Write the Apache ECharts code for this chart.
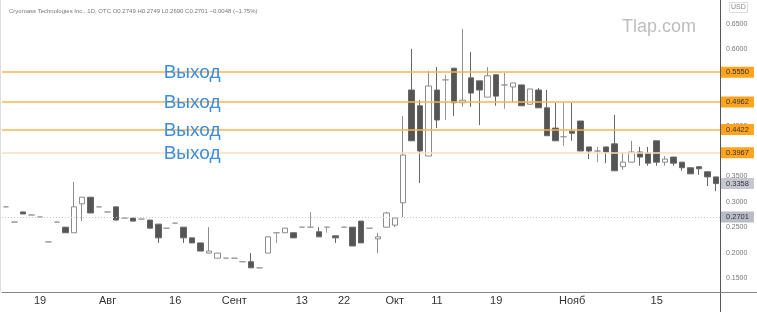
<!DOCTYPE html>
<html>
<head>
<meta charset="utf-8">
<script src="https://cdn.jsdelivr.net/npm/echarts@6/dist/echarts.min.js"></script>
<style>
html, body { margin: 0; padding: 0; background: #fff; }
#chart { width: 757px; height: 312px; }
</style>
</head>
<body>
<div id="chart"></div>
<script>
// daily candles
var opens  = [0.290,0.260,0.280,0.274,0.270,0.221,0.260,0.250,0.239,0.296,0.309,0.290,0.280,0.290,0.268,0.268,0.266,0.264,0.256,0.248,0.258,0.250,0.229,0.219,0.199,0.189,0.189,0.189,0.182,0.182,0.170,0.199,0.239,0.239,0.239,0.250,0.250,0.241,0.250,0.233,0.250,0.250,0.262,0.248,0.227,0.250,0.254,0.298,0.520,0.489,0.390,0.520,0.540,0.563,0.495,0.544,0.538,0.506,0.550,0.530,0.526,0.530,0.492,0.520,0.485,0.445,0.428,0.439,0.459,0.408,0.400,0.408,0.414,0.369,0.378,0.398,0.396,0.420,0.378,0.388,0.378,0.367,0.369,0.359,0.349];
var closes = [0.290,0.260,0.276,0.274,0.270,0.221,0.260,0.239,0.290,0.309,0.278,0.290,0.280,0.264,0.268,0.262,0.266,0.248,0.229,0.248,0.258,0.229,0.219,0.203,0.203,0.199,0.189,0.189,0.182,0.170,0.170,0.231,0.239,0.248,0.229,0.250,0.250,0.231,0.250,0.229,0.250,0.213,0.219,0.248,0.231,0.278,0.268,0.392,0.420,0.400,0.528,0.461,0.540,0.495,0.500,0.514,0.520,0.548,0.508,0.530,0.534,0.489,0.522,0.485,0.430,0.420,0.428,0.435,0.400,0.400,0.400,0.398,0.361,0.378,0.398,0.388,0.376,0.378,0.384,0.376,0.367,0.355,0.365,0.349,0.3358];
var lows   = [0.290,0.260,0.276,0.274,0.270,0.221,0.260,0.239,0.239,0.262,0.278,0.290,0.280,0.264,0.268,0.262,0.266,0.248,0.219,0.248,0.258,0.219,0.219,0.203,0.199,0.189,0.189,0.189,0.182,0.170,0.170,0.199,0.219,0.239,0.229,0.250,0.250,0.231,0.239,0.219,0.250,0.213,0.219,0.248,0.199,0.250,0.250,0.270,0.420,0.337,0.390,0.445,0.461,0.469,0.487,0.487,0.451,0.506,0.489,0.483,0.495,0.489,0.492,0.485,0.430,0.420,0.410,0.420,0.400,0.384,0.378,0.376,0.361,0.363,0.378,0.371,0.371,0.371,0.371,0.371,0.361,0.355,0.353,0.331,0.321];
var highs  = [0.290,0.260,0.280,0.274,0.270,0.221,0.260,0.250,0.339,0.309,0.309,0.290,0.280,0.290,0.268,0.268,0.266,0.264,0.256,0.248,0.258,0.250,0.229,0.219,0.250,0.199,0.189,0.189,0.182,0.199,0.170,0.231,0.239,0.248,0.239,0.250,0.280,0.250,0.250,0.233,0.250,0.250,0.262,0.248,0.239,0.280,0.268,0.469,0.601,0.500,0.558,0.565,0.550,0.563,0.640,0.595,0.538,0.565,0.550,0.554,0.534,0.530,0.522,0.524,0.520,0.495,0.495,0.495,0.459,0.408,0.408,0.408,0.471,0.398,0.420,0.408,0.408,0.420,0.390,0.388,0.378,0.367,0.369,0.359,0.349];

var tickIdx  = [4, 12, 20, 27, 35, 40, 46, 51, 58, 67, 77];
var tickText = ['19', 'Авг', '16', 'Сент', '13', '22', 'Окт', '11', '19', 'Нояб', '15'];
var yTicks = [0.15, 0.20, 0.25, 0.30, 0.35, 0.40, 0.45, 0.50, 0.55, 0.60, 0.65];

var exitLevels = [0.5550, 0.4962, 0.4422, 0.3967];
var exitLabel = 'Выход';
var lastPrice = 0.3358;
var refPrice = 0.2701;

var days = opens.map(function (v, i) { return String(i); });
var ohlc = opens.map(function (o, i) { return [o, closes[i], lows[i], highs[i]]; });

var tagLabel = function (v, bg) {
    return {
        show: true, position: 'end', distance: 1,
        formatter: v.toFixed(4),
        backgroundColor: bg, color: '#333', fontSize: 7.5,
        fontFamily: 'Liberation Sans', padding: [2, 5, 1, 5]
    };
};

var lines = exitLevels.map(function (v, i) {
    return {
        yAxis: v,
        lineStyle: { color: i === 3 ? '#fbe0b6' : '#f6b44c', width: 1.5, type: 'solid' },
        label: tagLabel(v, '#ffa41f')
    };
});
lines.push({ yAxis: lastPrice, lineStyle: { color: 'rgba(0,0,0,0)', width: 1 }, label: tagLabel(lastPrice, '#c6c8d1') });
lines.push({ yAxis: refPrice, lineStyle: { color: '#c8c8c8', width: 1, type: [1, 2] }, label: tagLabel(refPrice, '#b9bcc7') });

var chart = echarts.init(document.getElementById('chart'));
chart.setOption({
    animation: false,
    backgroundColor: '#fff',
    title: {
        text: 'Cryomass Technologies Inc., 1D, OTC O0.2749 H0.2749 L0.2690 C0.2701 −0.0048 (−1.75%)',
        left: 4, top: 3,
        textStyle: { fontSize: 6, fontWeight: 'normal', color: '#777', fontFamily: 'Liberation Sans' }
    },
    graphic: [
        { type: 'text', left: 622, top: 18, style: { text: 'Tlap.com', fontSize: 18, fill: '#bdbdbd', fontFamily: 'Liberation Sans' } },
        { type: 'rect', left: 729, top: 2, shape: { width: 18, height: 10 }, style: { fill: '#fff', stroke: '#ddd' } },
        { type: 'text', left: 731, top: 4, style: { text: 'USD', fontSize: 7, fill: '#888', fontFamily: 'Liberation Sans' } },
        { type: 'line', shape: { x1: 720.5, y1: 292, x2: 720.5, y2: 312 }, style: { stroke: '#555', lineWidth: 1 } },
        { type: 'line', shape: { x1: 720, y1: 292.5, x2: 757, y2: 292.5 }, style: { stroke: '#888', lineWidth: 1 } },
        { type: 'line', shape: { x1: 0.5, y1: 0, x2: 0.5, y2: 292 }, style: { stroke: '#ddd', lineWidth: 1 } }
    ],
    grid: { left: 2, right: 37, top: 0, height: 292 },
    xAxis: {
        type: 'category',
        data: days,
        boundaryGap: true,
        axisLine: { lineStyle: { color: '#888' } },
        axisTick: { show: false },
        splitLine: { show: false },
        axisLabel: {
            interval: function (i) { return tickIdx.indexOf(i) >= 0; },
            formatter: function (v, i) { return tickText[tickIdx.indexOf(i)]; },
            color: '#333', fontSize: 11, margin: 3, fontFamily: 'Liberation Sans'
        }
    },
    yAxis: {
        type: 'value',
        position: 'right',
        min: 0.1224,
        max: 0.6972,
        scale: true,
        axisLine: { show: true, lineStyle: { color: '#555' } },
        axisTick: { show: false },
        splitLine: { show: false },
        axisLabel: {
            customValues: yTicks,
            formatter: function (v) { return v.toFixed(4); },
            color: '#777', fontSize: 7, margin: 6, fontFamily: 'Liberation Sans'
        }
    },
    series: [{
        type: 'candlestick',
        data: ohlc,
        barWidth: 6,
        itemStyle: {
            color: '#ffffff', color0: '#555555',
            borderColor: '#8c8c8c', borderColor0: '#666666',
            borderColorDoji: '#999999', borderWidth: 1
        },
        markLine: {
            silent: true,
            precision: 4,
            symbol: ['none', 'none'],
            data: lines
        },
        markPoint: {
            silent: true,
            symbol: 'rect',
            symbolSize: 1,
            itemStyle: { color: 'rgba(0,0,0,0)' },
            label: {
                show: true, position: 'inside', offset: [0, 1],
                formatter: exitLabel,
                color: '#3b8ee3', fontSize: 19, fontFamily: 'Liberation Sans'
            },
            data: exitLevels.map(function (v) { return { coord: ['22', v] }; })
        }
    }]
});
</script>
</body>
</html>
